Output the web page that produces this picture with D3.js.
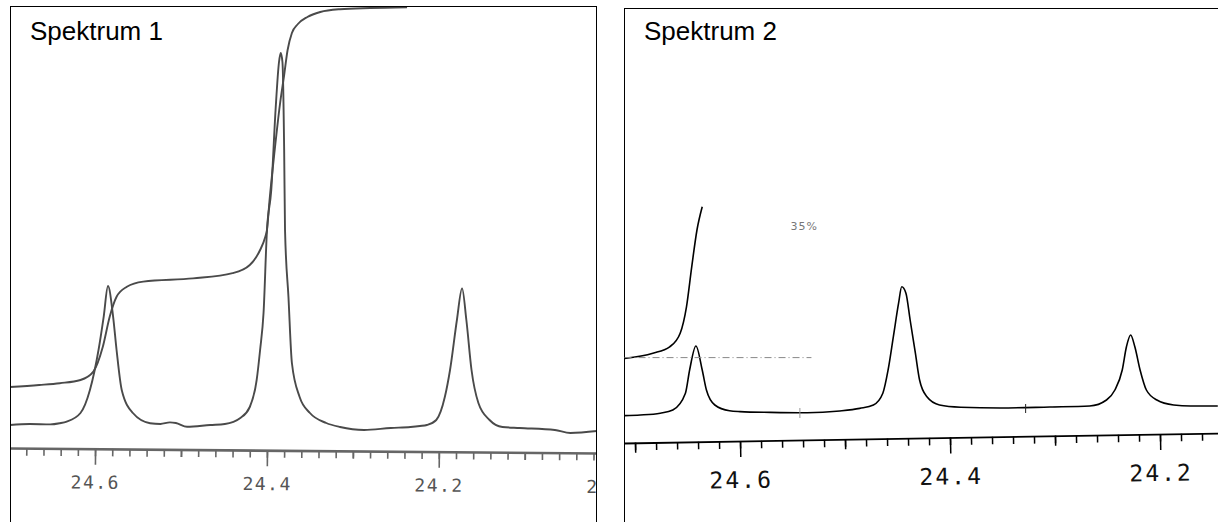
<!DOCTYPE html>
<html>
<head>
<meta charset="utf-8">
<script src="https://cdn.jsdelivr.net/npm/d3@7"></script>
<style>
  html, body { margin: 0; padding: 0; background: #fff; }
  svg { display: block; }
</style>
</head>
<body>
<svg id="chart" width="1218" height="522"></svg>
<script>
// ---------------- DATA ----------------
// Spektrum 1: chemical shift (ppm) and intensity (arbitrary units)
const spec1Ppm = [24.699,24.676,24.652,24.641,24.633,24.617,24.606,24.596,24.590,24.585,24.579,24.575,24.569,24.556,24.536,24.524,24.513,24.506,24.493,24.466,24.449,24.431,24.420,24.412,24.408,24.404,24.400,24.395,24.390,24.386,24.384,24.382,24.380,24.379,24.375,24.371,24.362,24.350,24.331,24.315,24.287,24.256,24.233,24.222,24.214,24.203,24.193,24.187,24.179,24.173,24.168,24.162,24.154,24.141,24.126,24.106,24.065,24.047,24.016];
const spec1Int = [1.25,1.5,1.4,1.7,2.1,4.25,10,20,28.3,36,28.3,20,10,4.25,1.7,1.5,1.9,1.75,0.8,1.25,1.5,3,5.75,12.5,20,29.25,50,60,80,92,94.25,92,70,50,33.25,16.75,8.25,4.25,1.75,0.75,0,0.5,0.75,1,1.25,2.5,8.3,15,27.5,35.4,27.5,15,6.75,2.5,0.75,0.5,0,-0.75,-0.25];
// Spektrum 1: integral curve
const integ1Ppm = [24.699,24.665,24.641,24.617,24.602,24.591,24.583,24.575,24.563,24.544,24.486,24.440,24.420,24.408,24.402,24.400,24.397,24.391,24.385,24.380,24.376,24.371,24.364,24.353,24.338,24.315,24.280,24.237];
const integ1Val = [10.75,11.25,11.7,12.5,14.6,20.8,28.3,33.3,35.8,37.1,37.9,39.2,41.25,45,48.25,50,57.5,70,81.25,88.75,95,99.25,101.5,103.25,104.5,105.2,105.5,105.7];

// Spektrum 2
const spec2Ppm = [24.710,24.695,24.676,24.664,24.652,24.648,24.642,24.636,24.632,24.624,24.610,24.600,24.571,24.536,24.505,24.486,24.473,24.464,24.459,24.454,24.449,24.446,24.442,24.438,24.433,24.429,24.422,24.410,24.390,24.352,24.305,24.267,24.251,24.243,24.236,24.232,24.228,24.224,24.219,24.213,24.203,24.187,24.171,24.145];
const spec2Int = [1.1,1.25,1.7,2.5,6.7,12.5,18.5,12.5,7.5,3.75,2.3,2.1,1.9,1.8,2.25,2.9,3.75,6.7,12.5,20.8,29.2,33.3,31.7,25,16.7,10,5.8,3.75,3.2,3,3.25,3.5,5,7.5,12.5,18.3,21.25,18.3,12.5,7.5,5,3.75,3.5,3.5];
const integ2Ppm = [24.710,24.683,24.667,24.657,24.651,24.646,24.641,24.636];
const integ2Val = [15.4,16.7,18.3,21.7,28.3,38.3,47.5,53.3];
const refLine2Ppm = [24.710, 24.532];
const refLine2Val = 15.6;
const note2 = {ppm: 24.552, val: 47.5, text: "35%"};
const marks2Ppm = [24.543, 24.328];
const marks2Val = [[0.5, 3.0], [1.75, 4.0]];

// Axis ticks
const titles = ["Spektrum 1", "Spektrum 2"];
const majorTicks1 = [24.6, 24.4, 24.2, 24.0];
const majorLabels1 = ["24.6", "24.4", "24.2", "24.0"];
const majorTicks2 = [24.6, 24.4, 24.2];
const majorLabels2 = ["24.6", "24.4", "24.2"];
const midTicks = [24.7, 24.5, 24.3, 24.1];

// ---------------- DRAW ----------------
const svg = d3.select("#chart");
const minorTicks = d3.range(0, 40).map(i => +(24.0 + i * 0.02).toFixed(2));

const defs = svg.append("defs");
defs.append("clipPath").attr("id", "clip1").append("rect")
  .attr("x", 10).attr("y", 6).attr("width", 587).attr("height", 520);
defs.append("clipPath").attr("id", "clip2").append("rect")
  .attr("x", 624).attr("y", 8).attr("width", 600).attr("height", 520);

function panel(cfg) {
  const g = svg.append("g").attr("clip-path", `url(#${cfg.clip})`);
  const x = d3.scaleLinear().domain(cfg.xDomain).range(cfg.xRange);
  const y = d3.scaleLinear().domain([0, 100]).range(cfg.yRange);
  const line = d3.line().x(d => x(d[0])).y(d => y(d[1])).curve(d3.curveMonotoneX);
  const inDomain = v => v <= cfg.xDomain[0] && v >= cfg.xDomain[1];

  // axis (slightly tilted like the plotter output)
  const ag = g.append("g")
    .attr("transform", `translate(${cfg.xRange[0]},${cfg.axisY}) rotate(${cfg.tilt}) translate(${-cfg.xRange[0]},0)`);
  const mk = (vals, size) => d3.axisBottom(x).tickValues(vals.filter(inDomain)).tickSize(size).tickSizeOuter(0).tickFormat("");
  const a1 = ag.append("g").call(mk(minorTicks, 7.5));
  const a2 = ag.append("g").call(mk(midTicks, cfg.midSize));
  const a3 = ag.append("g").call(d3.axisBottom(x).tickValues(cfg.major).tickSize(16).tickSizeOuter(0)
    .tickFormat((d, i) => cfg.majorLabels[i]));
  [a1, a2, a3].forEach(a => {
    a.selectAll("path,line").attr("stroke", cfg.axisColor).attr("stroke-width", cfg.tickWidth);
  });
  a2.select(".domain").remove();
  a3.select(".domain").remove();
  a1.select(".domain").attr("stroke-width", cfg.axisWidth);
  a3.selectAll("text")
    .attr("y", cfg.labelY).attr("dy", null)
    .attr("fill", cfg.labelColor)
    .attr("font-family", "'DejaVu Sans Mono', 'Liberation Mono', monospace")
    .attr("font-size", cfg.labelSize)
    .attr("letter-spacing", cfg.letterSpacing);

  // spectrum & integral
  const specData = cfg.ppm.map((p, i) => [p, cfg.int[i]]);
  const intData = cfg.iPpm.map((p, i) => [p, cfg.iVal[i]]);
  g.append("path").attr("d", line(specData)).attr("fill", "none")
    .attr("stroke", cfg.lineColor).attr("stroke-width", cfg.lineWidth).attr("stroke-linejoin", "round");
  g.append("path").attr("d", line(intData)).attr("fill", "none")
    .attr("stroke", cfg.lineColor).attr("stroke-width", cfg.lineWidth).attr("stroke-linejoin", "round");

  // frame
  g.append("path")
    .attr("d", cfg.frame)
    .attr("fill", "none").attr("stroke", "#000").attr("stroke-width", 2);

  // title
  svg.append("text").attr("x", cfg.titleX).attr("y", 40).text(cfg.title)
    .attr("font-family", "Arial, 'Liberation Sans', sans-serif").attr("font-size", 26).attr("fill", "#000");
  return {g, x, y};
}

const p1 = panel({
  clip: "clip1", xDomain: [24.699, 24.016], xRange: [10, 597], yRange: [430, 30],
  axisY: 448, tilt: 0.49, midSize: 7.5, axisColor: "#666", tickWidth: 1.6, axisWidth: 2.6,
  major: majorTicks1, majorLabels: majorLabels1,
  labelY: 40, labelColor: "#555", labelSize: 18, letterSpacing: 1.5,
  ppm: spec1Ppm, int: spec1Int, iPpm: integ1Ppm, iVal: integ1Val,
  lineColor: "#4a4a4a", lineWidth: 1.9,
  frame: "M10,530 L10,6 L597,6 L597,530", title: titles[0], titleX: 30
});

const p2 = panel({
  clip: "clip2", xDomain: [24.7105, 24.1448], xRange: [624, 1218], yRange: [420, 20],
  axisY: 443, tilt: -0.96, midSize: 10, axisColor: "#000", tickWidth: 1.5, axisWidth: 1.8,
  major: majorTicks2, majorLabels: majorLabels2,
  labelY: 47, labelColor: "#111", labelSize: 23, letterSpacing: 2,
  ppm: spec2Ppm, int: spec2Int, iPpm: integ2Ppm, iVal: integ2Val,
  lineColor: "#000", lineWidth: 1.6,
  frame: "M624,530 L624,8 L1230,8", title: titles[1], titleX: 644
});

// panel 2 annotations
p2.g.append("line")
  .attr("x1", p2.x(refLine2Ppm[0])).attr("x2", p2.x(refLine2Ppm[1]))
  .attr("y1", p2.y(refLine2Val)).attr("y2", p2.y(refLine2Val))
  .attr("stroke", "#888").attr("stroke-width", 1).attr("stroke-dasharray", "7,3,1,3");
p2.g.append("text").attr("x", p2.x(note2.ppm)).attr("y", p2.y(note2.val))
  .text(note2.text).attr("font-family", "'DejaVu Sans', sans-serif").attr("font-size", 11)
  .attr("fill", "#777").attr("letter-spacing", 1);
marks2Ppm.forEach((p, i) => {
  p2.g.append("line").attr("x1", p2.x(p)).attr("x2", p2.x(p))
    .attr("y1", p2.y(marks2Val[i][0])).attr("y2", p2.y(marks2Val[i][1]))
    .attr("stroke", i === 0 ? "#999" : "#222").attr("stroke-width", 1);
});
</script>
</body>
</html>
